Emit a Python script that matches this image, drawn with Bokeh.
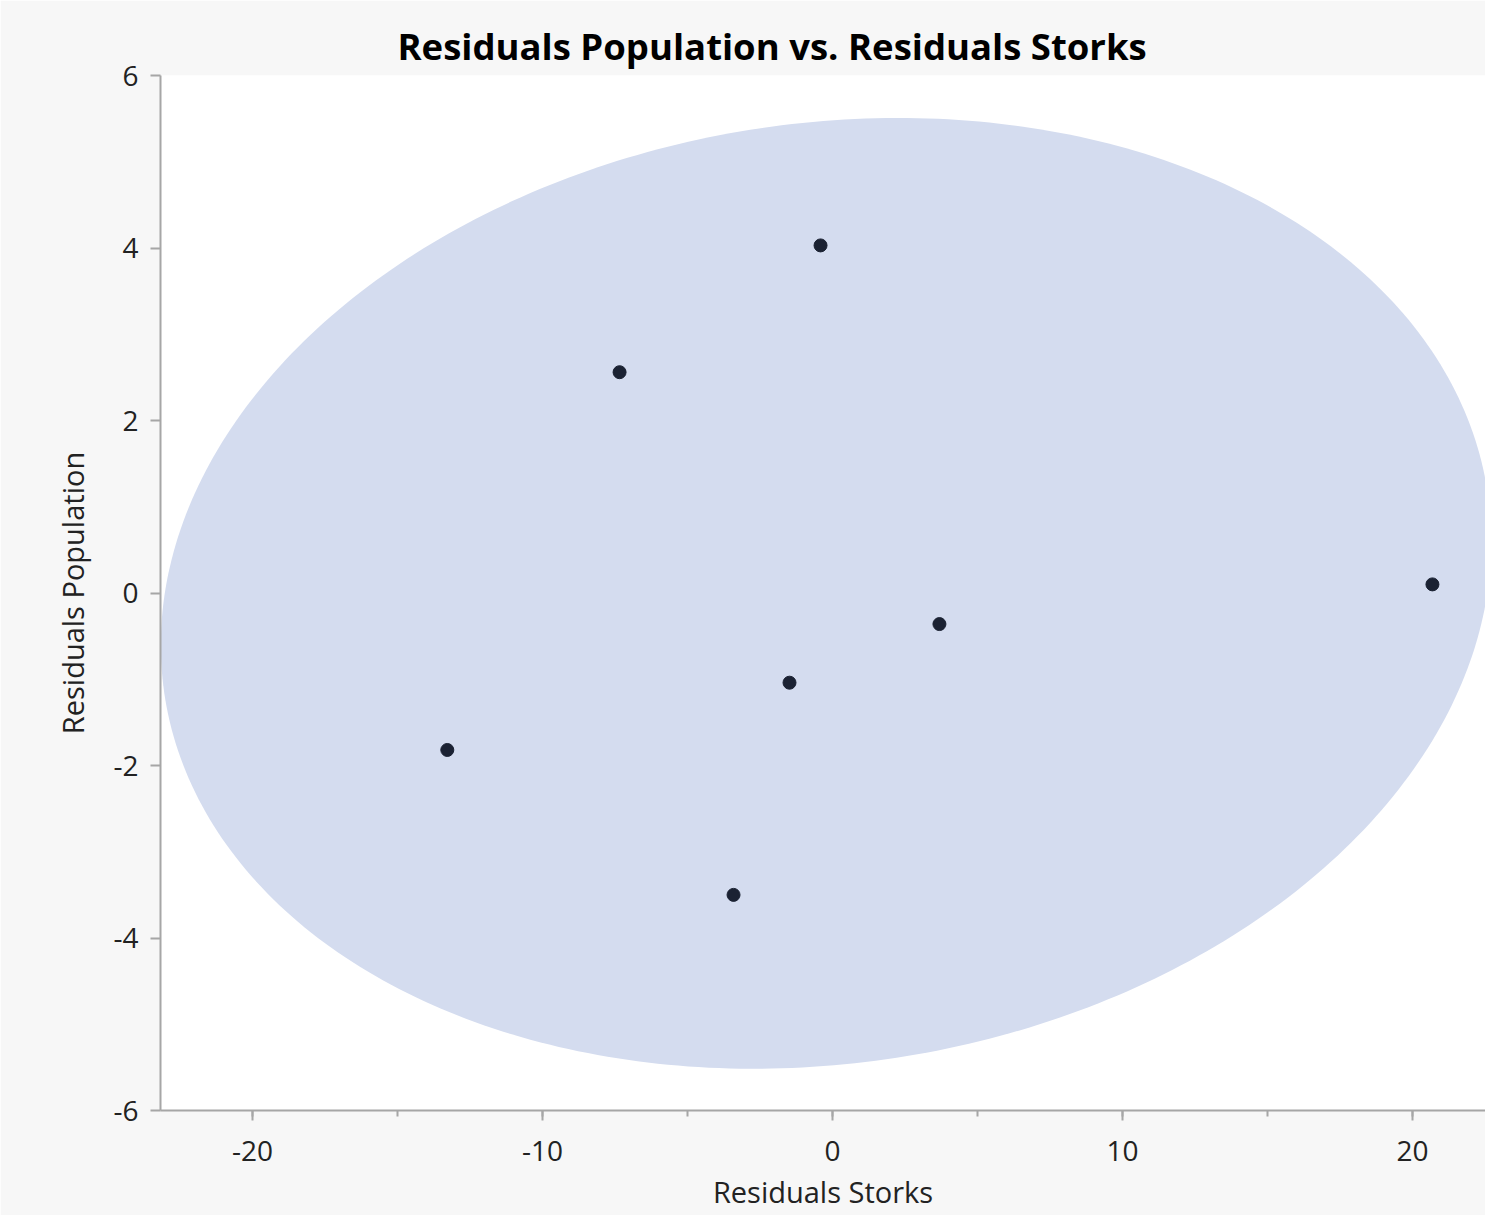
import numpy as np
from bokeh.plotting import figure
from bokeh.models import Range1d, SingleIntervalTicker, Title, NumeralTickFormatter
from bokeh.embed import file_html
from bokeh.resources import INLINE

# data
res_storks = [-0.41, -7.34, -13.28, -1.48, 3.69, -3.41, 20.69]
res_population = [4.03, 2.56, -1.82, -1.04, -0.36, -3.50, 0.10]
x_ticks_interval = 10
y_ticks_interval = 2
ellipse_level = 0.90

title_text = "Residuals Population vs. Residuals Storks"

# density ellipse from the data
xy = np.array([res_storks, res_population])
mu = xy.mean(axis=1)
cov = np.cov(xy)
k = np.sqrt(-2 * np.log(1 - ellipse_level))
L = np.linalg.cholesky(cov)
t = np.linspace(0, 2 * np.pi, 400)
circ = np.vstack([np.cos(t), np.sin(t)])
ell = mu[:, None] + k * (L @ circ)

p = figure(width=1485, height=1215, output_backend="svg", toolbar_location=None,
           x_range=Range1d(-23.17, 22.52), y_range=Range1d(-6, 6),
           min_border_left=160, min_border_right=0, min_border_top=75, min_border_bottom=105)
p.title = Title(text=title_text, align="left", offset=237,
                text_font="Open Sans", text_font_size="36.5px", text_font_style="bold",
                text_color="#000000")
p.background_fill_color = "white"
p.border_fill_color = "#f7f7f7"
p.outline_line_color = None
p.grid.visible = False

p.patch(ell[0], ell[1], fill_color="#d4dcef", line_color=None)
p.scatter(res_storks, res_population, size=13, color="#1b2233")

p.xaxis.ticker = SingleIntervalTicker(interval=x_ticks_interval, num_minor_ticks=2)
p.yaxis.ticker = SingleIntervalTicker(interval=y_ticks_interval, num_minor_ticks=0)
for ax in (p.xaxis[0], p.yaxis[0]):
    ax.formatter = NumeralTickFormatter(format="0")
    ax.axis_line_color = "#a6a6a6"
    ax.axis_line_width = 2
    ax.major_tick_line_color = "#a6a6a6"
    ax.major_tick_line_width = 2
    ax.major_tick_out = 10
    ax.major_tick_in = 0
    ax.minor_tick_out = 6
    ax.minor_tick_in = 0
    ax.minor_tick_line_color = "#a6a6a6"
    ax.minor_tick_line_width = 2
    ax.major_label_text_font = "Open Sans"
    ax.major_label_text_font_size = "28px"
    ax.major_label_text_color = "#222222"
    ax.axis_label_text_font = "Open Sans"
    ax.axis_label_text_font_size = "29px"
    ax.axis_label_text_font_style = "normal"
    ax.axis_label_text_color = "#222222"
p.yaxis.minor_tick_line_color = None
p.xaxis.axis_label = "Residuals Storks"
p.yaxis.axis_label = "Residuals Population"
p.yaxis.major_label_orientation = "horizontal"
p.xaxis.major_label_standoff = 20
p.yaxis.major_label_standoff = 12
p.xaxis.axis_label_standoff = 8
p.yaxis.axis_label_standoff = 18

open("out.html", "w").write(file_html(p, INLINE))
